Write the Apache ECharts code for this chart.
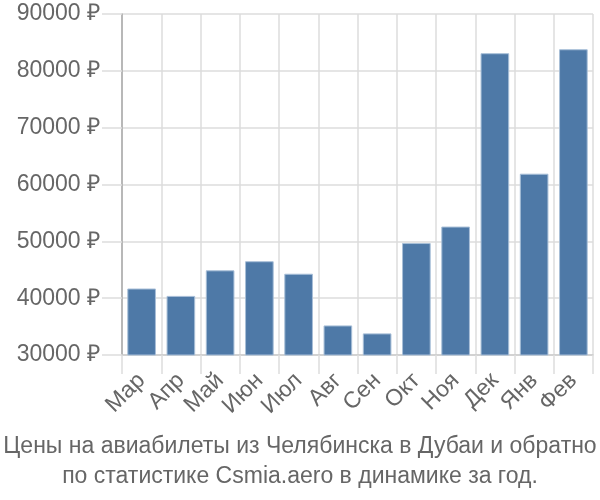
<!DOCTYPE html>
<html><head><meta charset="utf-8">
<script src="https://cdn.jsdelivr.net/npm/echarts@6/dist/echarts.min.js"></script>
<style>html,body{margin:0;padding:0;background:#fff}#c{width:600px;height:500px}</style>
</head><body><div id="c"></div>
<script>
const categories = ['Мар','Апр','Май','Июн','Июл','Авг','Сен','Окт','Ноя','Дек','Янв','Фев'];
const prices = [41700, 40400, 44900, 46500, 44300, 35200, 33800, 49700, 52600, 83100, 61900, 83800];
const yMin = 30000, yMax = 90000, yStep = 10000;
const titleLines = ['Цены на авиабилеты из Челябинска в Дубаи и обратно', 'по статистике Csmia.aero в динамике за год.'];

const chart = echarts.init(document.getElementById('c'));
chart.setOption({
  animation: false,
  textStyle: {fontFamily: 'Liberation Sans, Arial, sans-serif'},
  title: {
    text: titleLines.join('\n'),
    left: 'center', bottom: 3,
    textStyle: {color: '#666', fontSize: 23, fontWeight: 'normal', lineHeight: 30}
  },
  grid: {left: 122, right: 7, top: 14, bottom: 145},
  xAxis: {
    type: 'category', data: categories,
    axisLine: {lineStyle: {color: '#ccc', width: 1.5}},
    axisTick: {show: true, length: 19, lineStyle: {color: '#ddd', width: 1.5}},
    splitLine: {show: true, lineStyle: {color: '#ddd', width: 1.5}},
    axisLabel: {rotate: 45, color: '#666', fontSize: 23, margin: 22, interval: 0}
  },
  yAxis: {
    type: 'value', min: yMin, max: yMax, interval: yStep,
    axisLine: {show: true, lineStyle: {color: '#aaa', width: 1.5}},
    axisTick: {show: true, length: 20, lineStyle: {color: '#ddd', width: 1.5}},
    splitLine: {lineStyle: {color: '#ddd', width: 1.5}},
    axisLabel: {color: '#666', fontSize: 23, margin: 22, formatter: v => v + ' ₽'}
  },
  series: [{
    type: 'bar', data: prices, barCategoryGap: '27%',
    itemStyle: {color: '#4e79a7', borderColor: '#a8bfd8', borderWidth: 1}
  }]
});
</script></body></html>
